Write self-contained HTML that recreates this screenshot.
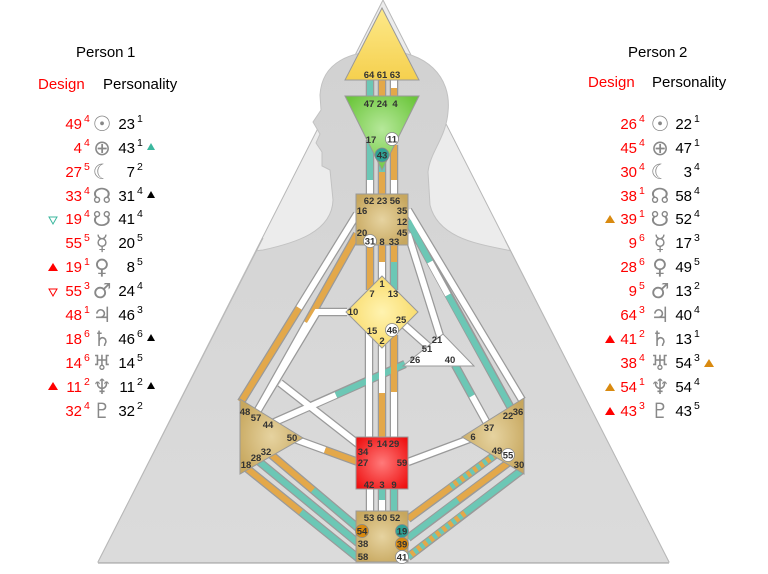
<!DOCTYPE html>
<html><head><meta charset="utf-8"><style>
html,body{margin:0;padding:0;background:#fff;}
svg{display:block;}
.t{font-family:"Liberation Sans",sans-serif;}
.g{font-family:"Liberation Sans",sans-serif;font-weight:bold;font-size:9.5px;fill:#333;text-anchor:middle;}
.d{font-family:"Liberation Sans",sans-serif;font-size:15px;fill:#f00;text-anchor:end;}
.p{font-family:"Liberation Sans",sans-serif;font-size:15px;fill:#000;text-anchor:end;}
.s{font-family:"Liberation Sans",sans-serif;font-size:10.5px;}
.y{font-family:"DejaVu Sans",sans-serif;font-size:21px;fill:#888;text-anchor:middle;}
</style></head><body>
<svg width="768" height="574" viewBox="0 0 768 574" xmlns="http://www.w3.org/2000/svg">
<defs>
<clipPath id="tri"><polygon points="383,0 98,562 669,562"/><rect x="0" y="0" width="768" height="240"/></clipPath>
<radialGradient id="tan" cx="50%" cy="50%" r="60%"><stop offset="0" stop-color="#e6d3a0"/><stop offset="1" stop-color="#c7a75e"/></radialGradient>
<radialGradient id="red" cx="50%" cy="50%" r="65%"><stop offset="0" stop-color="#ff7a7a"/><stop offset="1" stop-color="#ee1010"/></radialGradient>
<radialGradient id="yel" cx="50%" cy="50%" r="65%"><stop offset="0" stop-color="#fff3b0"/><stop offset="1" stop-color="#f7d55a"/></radialGradient>
<linearGradient id="yel2" x1="0" y1="0" x2="0" y2="1"><stop offset="0" stop-color="#fde98a"/><stop offset="1" stop-color="#f5d04e"/></linearGradient>
<radialGradient id="grn" cx="50%" cy="45%" r="60%"><stop offset="0" stop-color="#b6e89a"/><stop offset="1" stop-color="#6cc63c"/></radialGradient>
<linearGradient id="bod" x1="0" y1="0" x2="0" y2="1"><stop offset="0" stop-color="#d2d2d2"/><stop offset="1" stop-color="#dcdcdc"/></linearGradient>
</defs>

<polygon points="383,0 98,562 669,562" fill="#ececec" stroke="#b8b8b8" stroke-width="1"/>
<g clip-path="url(#tri)">
<path d="M 180,300 C 200,262 240,252 263,250 C 295,243 332,232 333,200 L 330,170 L 322,166 L 322,152 L 316,143 L 320,134 L 313,122 L 321,110 L 320,95 C 322,62 350,51 385,51 C 425,51 452,76 448,112 C 446,138 430,152 428,172 L 430,205 C 438,238 478,244 507,250 C 540,256 570,270 600,320 L 760,600 L 0,600 Z" fill="url(#bod)" stroke="#c2c2c2" stroke-width="1"/>
</g>
<line x1="98" y1="562" x2="263" y2="238" stroke="#b8b8b8" stroke-width="1"/>
<line x1="669" y1="562" x2="505" y2="240" stroke="#b8b8b8" stroke-width="1"/>
<line x1="98" y1="563" x2="669" y2="563" stroke="#bbb" stroke-width="1.5"/>

<g stroke="#9a9a9a" stroke-width="8.5" fill="none" stroke-linecap="butt">
<path d="M370,80V97M382,80V97M394,80V97M370,140V195M382,160V195M394,145V195M370,245V290M382,245V280M394,245V290"/>
<path d="M357,214L241,402M357,234L257,412M347,312H317L258,410M280,383L358,444M268,425L405,364M292,438L358,462"/>
<path d="M268,452L358,528M256,459L358,543M244,466L358,558"/>
<path d="M369,330V437M382,345V437M394,335V437M370,489V511M382,489V511M394,489V511"/>
<path d="M408,210L522,400M408,221L512,410M408,234L440,336M401,322L428,346M455,365L488,425M408,462L472,438"/>
<path d="M408,519L495,455M408,538L508,463M408,557L522,470"/>
</g>
<g stroke-width="6" fill="none">
<path d="M370,80V97" stroke="#6cc7b5"/><path d="M382,80V97" stroke="#e3a84a"/><path d="M394,80V88" stroke="#fff"/><path d="M394,88V97" stroke="#e3a84a"/>
<path d="M370,140V180" stroke="#6cc7b5"/><path d="M370,180V195" stroke="#fff"/>
<path d="M382,160V172" stroke="#6cc7b5"/><path d="M382,172V195" stroke="#e3a84a"/>
<path d="M394,145V180" stroke="#e3a84a"/><path d="M394,180V195" stroke="#fff"/>
<path d="M370,245V290" stroke="#e3a84a"/>
<path d="M382,245V262" stroke="#e3a84a"/><path d="M382,262V280" stroke="#fff"/>
<path d="M394,245V262" stroke="#e3a84a"/><path d="M394,262V290" stroke="#6cc7b5"/>
<path d="M357,214L299,308" stroke="#fff"/><path d="M299,308L241,402" stroke="#e3a84a"/>
<path d="M357,234L307,323" stroke="#e3a84a"/><path d="M307,323L257,412" stroke="#fff"/>
<path d="M347,312H317L258,410" stroke="#fff"/>
<path d="M280,383L358,444" stroke="#fff"/>
<path d="M268,425L336,395" stroke="#fff"/><path d="M336,395L405,364" stroke="#6cc7b5"/>
<path d="M292,438L325,450" stroke="#fff"/><path d="M325,450L358,462" stroke="#e3a84a"/>
<path d="M268,452L313,490" stroke="#e3a84a"/><path d="M313,490L358,528" stroke="#6cc7b5"/>
<path d="M256,459L358,543" stroke="#6cc7b5"/>
<path d="M244,466L301,512" stroke="#e3a84a"/><path d="M301,512L358,558" stroke="#6cc7b5"/>
<path d="M369,330V437" stroke="#fff"/>
<path d="M382,345V393" stroke="#fff"/><path d="M382,393V437" stroke="#e3a84a"/>
<path d="M394,335V392" stroke="#e3a84a"/><path d="M394,392V437" stroke="#fff"/>
<path d="M370,489V511" stroke="#fff"/><path d="M382,489V500" stroke="#6cc7b5"/><path d="M382,500V511" stroke="#fff"/><path d="M394,489V511" stroke="#6cc7b5"/>
<path d="M408,210L522,400" stroke="#fff"/>
<path d="M408,221L430,262" stroke="#6cc7b5"/><path d="M430,262L448,295" stroke="#fff"/><path d="M448,295L512,410" stroke="#6cc7b5"/>
<path d="M408,234L440,336" stroke="#fff"/>
<path d="M401,322L428,346" stroke="#fff"/>
<path d="M455,365L472,396" stroke="#6cc7b5"/><path d="M472,396L488,425" stroke="#fff"/>
<path d="M408,462L472,438" stroke="#fff"/>
<path d="M408,519L451,487" stroke="#e3a84a"/><path d="M451,487L495,455" stroke="#e3a84a"/><path d="M451,487L495,455" stroke="#6cc7b5" stroke-dasharray="4,4"/>
<path d="M408,538L458,500" stroke="#6cc7b5"/><path d="M458,500L508,463" stroke="#e3a84a"/>
<path d="M408,557L465,513" stroke="#e3a84a"/><path d="M408,557L465,513" stroke="#6cc7b5" stroke-dasharray="4,4"/><path d="M465,513L522,470" stroke="#6cc7b5"/>
</g>

<g stroke="#999" stroke-width="1">
<polygon points="382,8 345,80 419,80" fill="url(#yel2)"/>
<polygon points="345,96 419,96 382,170" fill="url(#grn)"/>
<rect x="356" y="194" width="52" height="51" fill="url(#tan)"/>
<polygon points="382,276 418,312 382,348 346,312" fill="url(#yel)"/>
<polygon points="403,366 474,366 443,334" fill="#fff"/>
<rect x="356" y="437" width="52" height="52" fill="url(#red)"/>
<rect x="356" y="511" width="52" height="51" fill="url(#tan)"/>
<polygon points="240,399 303,438 240,474" fill="url(#tan)"/>
<polygon points="524,398 462,437 524,474" fill="url(#tan)"/>
</g>
<g stroke="#888" stroke-width="0.8">
<circle cx="392" cy="139" r="6.5" fill="#fff"/>
<circle cx="382" cy="155" r="7" fill="#2fa396"/>
<circle cx="370" cy="241" r="6.5" fill="#fff"/>
<circle cx="392" cy="330" r="6.5" fill="#fff"/>
<circle cx="508" cy="455" r="6.5" fill="#fff"/>
<circle cx="362" cy="531" r="6.5" fill="#d98a10"/>
<circle cx="402" cy="531" r="6.5" fill="#2fa396"/>
<circle cx="402" cy="544" r="6.5" fill="#d98a10"/>
<circle cx="402" cy="557" r="6.5" fill="#fff"/>
</g>
<g class="g">
<text x="369" y="78">64</text><text x="382" y="78">61</text><text x="395" y="78">63</text>
<text x="369" y="107">47</text><text x="382" y="107">24</text><text x="395" y="107">4</text>
<text x="371" y="143">17</text><text x="392" y="142.5">11</text><text x="382" y="158.5">43</text>
<text x="369" y="204">62</text><text x="382" y="204">23</text><text x="395" y="204">56</text>
<text x="362" y="214">16</text><text x="402" y="214">35</text><text x="402" y="225">12</text>
<text x="362" y="236">20</text><text x="402" y="236">45</text>
<text x="370" y="244.5">31</text><text x="382" y="245">8</text><text x="394" y="245">33</text>
<text x="382" y="287">1</text><text x="372" y="297">7</text><text x="393" y="297">13</text>
<text x="353" y="315">10</text><text x="401" y="323">25</text><text x="372" y="334">15</text><text x="392" y="333.5">46</text><text x="382" y="344">2</text>
<text x="437" y="343">21</text><text x="427" y="352">51</text><text x="415" y="363">26</text><text x="450" y="363">40</text>
<text x="370" y="447">5</text><text x="382" y="447">14</text><text x="394" y="447">29</text>
<text x="363" y="455">34</text><text x="363" y="466">27</text><text x="402" y="466">59</text>
<text x="369" y="488">42</text><text x="382" y="488">3</text><text x="394" y="488">9</text>
<text x="369" y="521">53</text><text x="382" y="521">60</text><text x="395" y="521">52</text>
<text x="362" y="534.5">54</text><text x="363" y="547">38</text><text x="363" y="560">58</text>
<text x="402" y="534.5">19</text><text x="402" y="547.5">39</text><text x="402" y="560.5">41</text>
<text x="245" y="415">48</text><text x="256" y="421">57</text><text x="268" y="428">44</text><text x="292" y="441">50</text>
<text x="266" y="455">32</text><text x="256" y="461">28</text><text x="246" y="468">18</text>
<text x="518" y="415">36</text><text x="508" y="419">22</text><text x="489" y="431">37</text><text x="473" y="440">6</text>
<text x="497" y="454">49</text><text x="508" y="458.5">55</text><text x="519" y="468">30</text>
</g>

<text class="t" x="76" y="57" font-size="15" fill="#000">Person</text><text class="t" x="127" y="57" font-size="15" fill="#000">1</text>
<text class="t" x="38" y="89" font-size="15" fill="#f00">Design</text>
<text class="t" x="103" y="89" font-size="15" fill="#000">Personality</text>
<text class="t" x="628" y="57" font-size="15" fill="#000">Person</text><text class="t" x="679" y="57" font-size="15" fill="#000">2</text>
<text class="t" x="588" y="87" font-size="15" fill="#f00">Design</text>
<text class="t" x="652" y="87" font-size="15" fill="#000">Personality</text>

<g>
<text class="d" x="82" y="129">49</text><text class="s" x="84" y="122" fill="#f00">4</text><text class="y" x="102" y="131">☉</text><text class="p" x="135" y="129">23</text><text class="s" x="137" y="122">1</text>
<text class="d" x="82" y="153">4</text><text class="s" x="84" y="146" fill="#f00">4</text><text class="y" x="102" y="155">⊕</text><text class="p" x="135" y="153">43</text><text class="s" x="137" y="146">1</text>
<text class="d" x="82" y="177">27</text><text class="s" x="84" y="170" fill="#f00">5</text><text class="y" x="102" y="179">☾</text><text class="p" x="135" y="177">7</text><text class="s" x="137" y="170">2</text>
<text class="d" x="82" y="201">33</text><text class="s" x="84" y="194" fill="#f00">4</text><text class="y" x="102" y="203">☊</text><text class="p" x="135" y="201">31</text><text class="s" x="137" y="194">4</text>
<text class="d" x="82" y="224">19</text><text class="s" x="84" y="217" fill="#f00">4</text><text class="y" x="102" y="226">☋</text><text class="p" x="135" y="224">41</text><text class="s" x="137" y="217">4</text>
<text class="d" x="82" y="248">55</text><text class="s" x="84" y="241" fill="#f00">5</text><text class="y" x="102" y="250">☿</text><text class="p" x="135" y="248">20</text><text class="s" x="137" y="241">5</text>
<text class="d" x="82" y="272">19</text><text class="s" x="84" y="265" fill="#f00">1</text><text class="y" x="102" y="274">♀</text><text class="p" x="135" y="272">8</text><text class="s" x="137" y="265">5</text>
<text class="d" x="82" y="296">55</text><text class="s" x="84" y="289" fill="#f00">3</text><text class="y" x="102" y="298">♂</text><text class="p" x="135" y="296">24</text><text class="s" x="137" y="289">4</text>
<text class="d" x="82" y="320">48</text><text class="s" x="84" y="313" fill="#f00">1</text><text class="y" x="102" y="322">♃</text><text class="p" x="135" y="320">46</text><text class="s" x="137" y="313">3</text>
<text class="d" x="82" y="344">18</text><text class="s" x="84" y="337" fill="#f00">6</text><text class="y" x="102" y="346">♄</text><text class="p" x="135" y="344">46</text><text class="s" x="137" y="337">6</text>
<text class="d" x="82" y="368">14</text><text class="s" x="84" y="361" fill="#f00">6</text><text class="y" x="102" y="370">♅</text><text class="p" x="135" y="368">14</text><text class="s" x="137" y="361">5</text>
<text class="d" x="82" y="392">11</text><text class="s" x="84" y="385" fill="#f00">2</text><text class="y" x="102" y="394">♆</text><text class="p" x="135" y="392">11</text><text class="s" x="137" y="385">2</text>
<text class="d" x="82" y="416">32</text><text class="s" x="84" y="409" fill="#f00">4</text><text class="y" x="102" y="418">♇</text><text class="p" x="135" y="416">32</text><text class="s" x="137" y="409">2</text>
</g>
<polygon points="147,150 151,143 155,150" fill="#3bb79e"/>
<polygon points="147,198 151,191 155,198" fill="#000"/>
<polygon points="49,217 57,217 53,224" fill="none" stroke="#3bb79e" stroke-width="1"/>
<polygon points="48,271 53,263 58,271" fill="#f00"/>
<polygon points="49,289 57,289 53,296" fill="none" stroke="#f00" stroke-width="1"/>
<polygon points="147,341 151,334 155,341" fill="#000"/>
<polygon points="48,390 53,382 58,390" fill="#f00"/>
<polygon points="147,389 151,382 155,389" fill="#000"/>

<g>
<text class="d" x="637" y="129">26</text><text class="s" x="639" y="122" fill="#f00">4</text><text class="y" x="660" y="131">☉</text><text class="p" x="692" y="129">22</text><text class="s" x="694" y="122">1</text>
<text class="d" x="637" y="153">45</text><text class="s" x="639" y="146" fill="#f00">4</text><text class="y" x="660" y="155">⊕</text><text class="p" x="692" y="153">47</text><text class="s" x="694" y="146">1</text>
<text class="d" x="637" y="177">30</text><text class="s" x="639" y="170" fill="#f00">4</text><text class="y" x="660" y="179">☾</text><text class="p" x="692" y="177">3</text><text class="s" x="694" y="170">4</text>
<text class="d" x="637" y="201">38</text><text class="s" x="639" y="194" fill="#f00">1</text><text class="y" x="660" y="203">☊</text><text class="p" x="692" y="201">58</text><text class="s" x="694" y="194">4</text>
<text class="d" x="637" y="224">39</text><text class="s" x="639" y="217" fill="#f00">1</text><text class="y" x="660" y="226">☋</text><text class="p" x="692" y="224">52</text><text class="s" x="694" y="217">4</text>
<text class="d" x="637" y="248">9</text><text class="s" x="639" y="241" fill="#f00">6</text><text class="y" x="660" y="250">☿</text><text class="p" x="692" y="248">17</text><text class="s" x="694" y="241">3</text>
<text class="d" x="637" y="272">28</text><text class="s" x="639" y="265" fill="#f00">6</text><text class="y" x="660" y="274">♀</text><text class="p" x="692" y="272">49</text><text class="s" x="694" y="265">5</text>
<text class="d" x="637" y="296">9</text><text class="s" x="639" y="289" fill="#f00">5</text><text class="y" x="660" y="298">♂</text><text class="p" x="692" y="296">13</text><text class="s" x="694" y="289">2</text>
<text class="d" x="637" y="320">64</text><text class="s" x="639" y="313" fill="#f00">3</text><text class="y" x="660" y="322">♃</text><text class="p" x="692" y="320">40</text><text class="s" x="694" y="313">4</text>
<text class="d" x="637" y="344">41</text><text class="s" x="639" y="337" fill="#f00">2</text><text class="y" x="660" y="346">♄</text><text class="p" x="692" y="344">13</text><text class="s" x="694" y="337">1</text>
<text class="d" x="637" y="368">38</text><text class="s" x="639" y="361" fill="#f00">4</text><text class="y" x="660" y="370">♅</text><text class="p" x="692" y="368">54</text><text class="s" x="694" y="361">3</text>
<text class="d" x="637" y="392">54</text><text class="s" x="639" y="385" fill="#f00">1</text><text class="y" x="660" y="394">♆</text><text class="p" x="692" y="392">54</text><text class="s" x="694" y="385">4</text>
<text class="d" x="637" y="416">43</text><text class="s" x="639" y="409" fill="#f00">3</text><text class="y" x="660" y="418">♇</text><text class="p" x="692" y="416">43</text><text class="s" x="694" y="409">5</text>
</g>
<polygon points="605,223 610,215 615,223" fill="#d98a10"/>
<polygon points="605,343 610,335 615,343" fill="#f00"/>
<polygon points="704,367 709,359 714,367" fill="#d98a10"/>
<polygon points="605,391 610,383 615,391" fill="#d98a10"/>
<polygon points="605,415 610,407 615,415" fill="#f00"/>
</svg>
</body></html>
